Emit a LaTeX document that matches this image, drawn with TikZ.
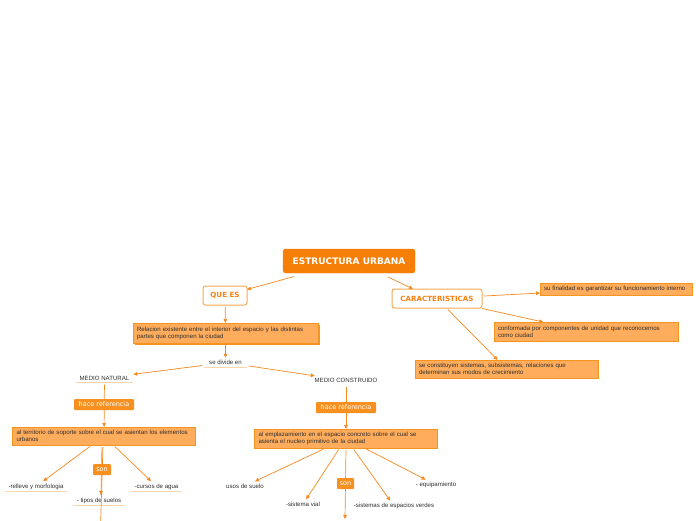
\documentclass[tikz,border=0pt]{standalone}
\usepackage{fontspec}
\setmainfont{Liberation Sans}
\newfontfamily\verd{DejaVu Sans}
\usetikzlibrary{arrows.meta,shadows}
\definecolor{rootc}{RGB}{245,127,7}
\definecolor{boxf}{RGB}{255,173,92}
\definecolor{boxd}{RGB}{247,148,30}
\definecolor{linec}{RGB}{245,137,30}
\definecolor{txt}{RGB}{45,45,45}
\definecolor{lblf}{RGB}{247,144,30}
\definecolor{ulc}{RGB}{253,214,176}
\definecolor{qborder}{RGB}{247,168,85}
\definecolor{qtext}{RGB}{245,130,20}
\begin{document}
\begin{tikzpicture}[x=1pt,y=-1pt,
  every node/.style={inner sep=0pt, outer sep=0pt},
  rootbox/.style={fill=rootc, draw=rootc, rounded corners=2.5pt, minimum width=132pt, minimum height=24pt, text=white, font=\verd\bfseries\fontsize{9}{10}\selectfont},
  catbox/.style={fill=white, draw=qborder, line width=1pt, rounded corners=2.5pt, minimum height=19pt, text=qtext, font=\verd\bfseries\fontsize{7.1}{8}\selectfont},
  infobox/.style={fill=boxf, draw=boxd, line width=0.6pt, text=txt, font=\fontsize{6.1}{6.9}\selectfont, align=left, inner xsep=4pt},
  lbl/.style={fill=lblf, text=white, rounded corners=1pt, minimum height=11pt, font=\verd\fontsize{6.5}{7}\selectfont},
  plain/.style={text=txt, font=\fontsize{6.1}{6.9}\selectfont, inner xsep=4pt, inner ysep=2.5pt},
  ul/.style={draw=ulc, line width=0.8pt},
  arr/.style={draw=linec, line width=0.7pt, -{Triangle[length=4pt,width=3.6pt]}, shorten <=2pt}
]
\useasboundingbox (0,0) rectangle (696,520);

% main nodes
\node[rootbox] (root) at (349,261) {ESTRUCTURA URBANA};
\node[catbox, minimum width=44pt] (quees) at (225,295.5) {QUE ES};
\node[catbox, minimum width=90pt] (carac) at (437,298.5) {CARACTERISTICAS};

\node[infobox, text width=144pt, minimum height=12pt] (fin) at (616,289) {su finalidad es garantizar su funcionamiento interno};
\node[infobox, text width=176pt, minimum height=19pt] (conf) at (586,331.5) {conformada por componentes de unidad que reconocemos\\como ciudad};
\node[infobox, text width=175pt, minimum height=18pt] (const) at (506.5,369) {se constituyen sistemas, subsistemas, relaciones que\\determinan sus modos de crecimiento};

\node[infobox, text width=177pt, minimum height=20pt, drop shadow={shadow xshift=1.8pt, shadow yshift=-1.8pt, fill=boxd, opacity=1}] (rel) at (225.5,333) {Relacion existente entre el interior del espacio y las distintas\\partes que componen la ciudad};

\node[plain, inner xsep=5pt] (divide) at (225.5,362.5) {se divide en};
\node[plain] (mnat) at (104.5,378) {MEDIO NATURAL};
\node[plain] (mcon) at (346,380.5) {MEDIO CONSTRUIDO};

\node[infobox, text width=175pt, minimum height=18pt] (terr) at (104,436) {al territorio de soporte sobre el cual se asientan los elementos\\urbanos};
\node[infobox, text width=175pt, minimum height=19pt] (empl) at (346,438.5) {al emplazamiento en el espacio concreto sobre el cual se\\asienta el nucleo primitivo de la ciudad};

\node[plain] (relieve) at (36,486.5) {-relleve y morfologia};
\node[plain] (tipos) at (99,500.5) {- tipos de suelos};
\node[plain] (cursos) at (156.5,486.5) {-cursos de agua};

\node[plain] (usos) at (245,486) {usos de suelo};
\node[plain] (vial) at (303,504) {-sistema vial};
\node[plain] (verdes) at (394,506) {-sistemas de espacios verdes};
\node[plain] (equip) at (436,485) {- equipamiento};

\coordinate (down1) at (100.5,527);
\coordinate (down2) at (345,519);

% underlines
\draw[ul] (divide.south west) -- (divide.south east);
\draw[ul] (mnat.south west) -- (mnat.south east);
\draw[ul] (relieve.south west) -- (relieve.south east);
\draw[ul] (tipos.south west) -- (tipos.south east);
\draw[ul] (cursos.south west) -- (cursos.south east);

% connectors
\draw[arr] ([shift={(-53,3)}]root.south) -- (quees);
\draw[arr] ([shift={(37,3)}]root.south) -- ([xshift=-24pt]carac.north);
\draw[arr] (carac) -- (fin);
\draw[arr] (carac) -- (conf);
\draw[arr] (carac) -- (const);
\draw[arr] (quees) -- (rel);
\draw[arr] (rel) -- (divide);
\draw[arr] (divide) -- (mnat);
\draw[arr] (divide) -- (mcon);
\draw[arr] (mnat) -- (terr);
\draw[arr] (mcon) -- (empl);
\draw[arr] (terr) -- (relieve);
\draw[arr] (terr) -- (cursos);
\draw[arr] (terr.south -| 102,0) -- (tipos.north -| 101,0);
\draw[arr] (terr.south -| 103,0) -- (down1);
\draw[arr] (empl) -- (usos);
\draw[arr] (empl) -- (vial);
\draw[arr] (empl) -- (verdes);
\draw[arr] (empl) -- (equip);
\draw[arr] (empl.south) -- (down2);

% labels on connectors
\node[lbl, minimum width=60pt] (href1) at (104,404.5) {hace referencia};
\node[lbl, minimum width=60pt] (href2) at (346,407.5) {hace referencia};
\node[lbl, minimum width=18pt] (son1) at (102,469.5) {son};
\node[lbl, minimum width=17pt] (son2) at (345.5,483.5) {son};
\end{tikzpicture}
\end{document}
